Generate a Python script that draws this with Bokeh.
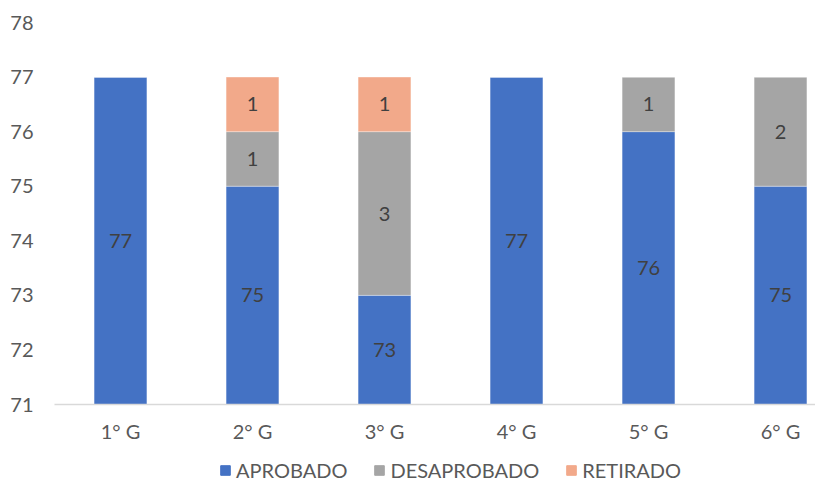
from bokeh.plotting import figure
from bokeh.models import Legend, LegendItem, ColumnDataSource, FixedTicker, Range1d
from bokeh.layouts import column
from bokeh.core.properties import value
from bokeh.embed import file_html
from bokeh.resources import INLINE

categories = ["1° G", "2° G", "3° G", "4° G", "5° G", "6° G"]
aprobado = [77, 75, 73, 77, 76, 75]
desaprobado = [0, 1, 3, 0, 1, 2]
retirado = [0, 1, 1, 0, 0, 0]
y_ticks = [71, 72, 73, 74, 75, 76, 77, 78]
series_names = ["APROBADO", "DESAPROBADO", "RETIRADO"]
colors = ["#4472C4", "#A5A5A5", "#F2A98A"]

FONT = "Lato"
FS = "20px"
y_min, y_max = y_ticks[0], y_ticks[-1]
xs = list(range(len(categories)))

src = ColumnDataSource(dict(x=xs, aprobado=aprobado, desaprobado=desaprobado, retirado=retirado))

p = figure(width=815, height=452, x_range=Range1d(-0.5, 5.265), y_range=Range1d(y_min, y_max),
           output_backend="svg", toolbar_location=None,
           min_border_left=54, min_border_right=0, min_border_top=22, min_border_bottom=48)

renderers = p.vbar_stack(["aprobado", "desaprobado", "retirado"], x="x", width=0.4,
                         color=colors, source=src, line_color="white", line_alpha=0.35, line_width=1)

# data labels
lx, ly, lt = [], [], []
for i in xs:
    top = aprobado[i]
    lx.append(i); ly.append((y_min + top) / 2); lt.append(str(aprobado[i]))
    for vals in (desaprobado, retirado):
        v = vals[i]
        if v:
            lx.append(i); ly.append(top + v / 2); lt.append(str(v))
            top += v
lsrc = ColumnDataSource(dict(x=lx, y=ly, t=lt))
p.text(x="x", y="y", text="t", source=lsrc, text_align="center", text_baseline="middle",
       text_font=value(FONT), text_font_size=FS, text_color="#404040")

p.xgrid.visible = False
p.ygrid.visible = False
p.outline_line_color = None

p.yaxis.ticker = FixedTicker(ticks=y_ticks)
p.yaxis.axis_line_color = None
p.yaxis.major_tick_line_color = None
p.yaxis.minor_tick_line_color = None
p.yaxis.major_tick_out = 0
p.yaxis.major_tick_in = 0
p.yaxis.major_label_standoff = 21
p.yaxis.major_label_text_font = FONT
p.yaxis.major_label_text_font_size = FS
p.yaxis.major_label_text_color = "#595959"

p.xaxis.ticker = FixedTicker(ticks=xs)
p.xaxis.major_label_overrides = {i: c for i, c in zip(xs, categories)}
p.xaxis.axis_line_color = "#D9D9D9"
p.xaxis.axis_line_width = 1.5
p.xaxis.major_tick_line_color = None
p.xaxis.minor_tick_line_color = None
p.xaxis.major_tick_out = 0
p.xaxis.major_tick_in = 0
p.xaxis.major_label_standoff = 14
p.xaxis.major_label_text_font = FONT
p.xaxis.major_label_text_font_size = FS
p.xaxis.major_label_text_color = "#595959"

# legend strip below the chart (swatch renderers hold no visible data)
lp = figure(width=815, height=32, x_range=Range1d(0, 1), y_range=Range1d(0, 1),
            output_backend="svg", toolbar_location=None,
            min_border_left=0, min_border_right=0, min_border_top=0, min_border_bottom=0)
lp.axis.visible = False
lp.grid.visible = False
lp.outline_line_color = None
nan = float("nan")
dummy = [lp.vbar(x=[nan], top=[nan], width=0.4, fill_color=c, line_color=c) for c in colors]
legend = Legend(items=[LegendItem(label=n, renderers=[r]) for n, r in zip(series_names, dummy)],
                orientation="horizontal", location=(165, 2), padding=0, margin=0,
                spacing=26, glyph_width=12, glyph_height=12, label_standoff=5, label_height=24,
                border_line_color=None, background_fill_alpha=0,
                label_text_font=FONT, label_text_font_size=FS, label_text_color="#595959")
lp.add_layout(legend, "center")

open("out.html", "w").write(file_html(column(p, lp, spacing=0), INLINE))
